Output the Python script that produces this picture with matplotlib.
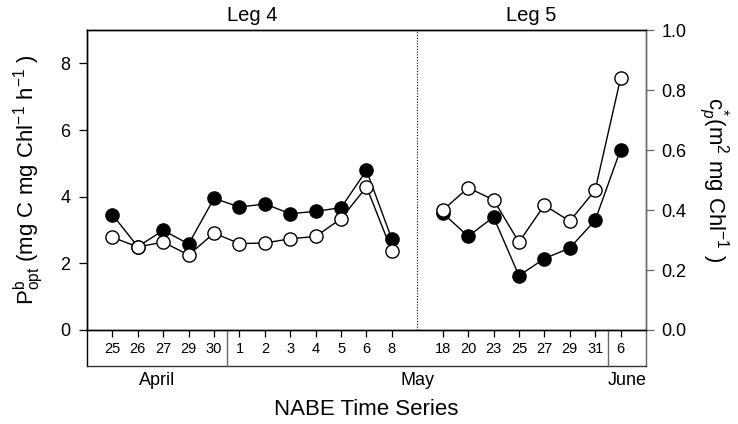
#!/usr/bin/env python
"""NABE time series: P^b_opt (filled) and c_p* (open) for Legs 4 and 5."""

import matplotlib

matplotlib.use("Agg")
import matplotlib.pyplot as plt
from matplotlib.lines import Line2D

plt.rcParams["font.family"] = ["Liberation Sans", "DejaVu Sans"]
plt.rcParams["mathtext.fontset"] = "custom"
plt.rcParams["mathtext.rm"] = "Liberation Sans"
plt.rcParams["mathtext.it"] = "Liberation Sans:italic"

# category days along the x axis (one slot each, gap slot between legs)
leg4_days = ["25", "26", "27", "29", "30", "1", "2", "3", "4", "5", "6", "8"]
leg5_days = ["18", "20", "23", "25", "27", "29", "31", "6"]

# P^b_opt, mg C mg Chl-1 h-1 (filled circles, left axis)
leg4_pbopt = [3.46, 2.50, 2.99, 2.58, 3.95, 3.69, 3.78, 3.49, 3.56, 3.67, 4.79, 2.72]
leg5_pbopt = [3.51, 2.81, 3.39, 1.63, 2.14, 2.46, 3.29, 5.41]

# c_p*, m2 mg Chl-1 (open circles, right axis)
leg4_cp = [0.309, 0.277, 0.293, 0.250, 0.323, 0.288, 0.290, 0.304, 0.312, 0.371, 0.477, 0.263]
leg5_cp = [0.399, 0.474, 0.434, 0.293, 0.416, 0.363, 0.466, 0.839]

months = ["April", "May", "June"]
month_edges = [-1, 4.5, 19.5, 21]

GRAY = "#666666"


def main() -> None:
    fig = plt.figure(figsize=(7.38, 4.24), dpi=100)
    ax = fig.add_axes([0.1179, 0.2217, 0.8753 - 0.1179, 0.9292 - 0.2217])
    ax2 = ax.twinx()

    x4 = list(range(len(leg4_days)))
    gap = len(leg4_days)
    x5 = [gap + 1 + i for i in range(len(leg5_days))]

    marker = dict(marker="o", markersize=9.5, color="black", linewidth=1.0,
                  markeredgecolor="black", markeredgewidth=1.0)
    for xs, ys in ((x4, leg4_pbopt), (x5, leg5_pbopt)):
        ax.plot(xs, ys, markerfacecolor="black", **marker)
    for xs, ys in ((x4, leg4_cp), (x5, leg5_cp)):
        ax2.plot(xs, ys, markerfacecolor="white", **marker)

    ax.axvline(gap, color="black", linestyle=(0, (1, 1.5)), linewidth=0.8)

    ax.set_xlim(-1, x5[-1] + 1)
    ax.set_ylim(0, 9)
    ax2.set_ylim(0, 1.0)
    ax.set_yticks([0, 2, 4, 6, 8])
    ax2.set_yticks([0.0, 0.2, 0.4, 0.6, 0.8, 1.0])
    ax2.set_yticklabels(["0.0", "0.2", "0.4", "0.6", "0.8", "1.0"])
    ax.set_xticks(x4 + x5)
    ax.set_xticklabels(leg4_days + leg5_days)

    ax.tick_params(axis="y", direction="out", length=6, width=0.9, labelsize=13, pad=6)
    ax2.tick_params(axis="y", direction="out", length=6, width=0.9, labelsize=13,
                    pad=5, color=GRAY)
    ax.tick_params(axis="x", direction="out", length=5, width=0.9, labelsize=10.5, pad=4)

    for a in (ax, ax2):
        a.spines["top"].set_linewidth(1.0)
        a.spines["left"].set_linewidth(1.0)
        a.spines["bottom"].set_linewidth(1.0)
        a.spines["right"].set_color(GRAY)
        a.spines["right"].set_linewidth(1.0)

    # month box below the axis
    box = -0.12
    trans = ax.get_xaxis_transform()
    ax.add_line(Line2D([-1, -1], [box, 0], transform=trans, color="black",
                       linewidth=1.0, clip_on=False))
    ax.add_line(Line2D([month_edges[-1]] * 2, [box, 0], transform=trans, color=GRAY,
                       linewidth=1.0, clip_on=False))
    ax.add_line(Line2D([month_edges[0], month_edges[-1]], [box, box], transform=trans,
                       color="#333333", linewidth=1.0, clip_on=False))
    for edge in month_edges[1:-1]:
        ax.add_line(Line2D([edge, edge], [box, 0], transform=trans, color=GRAY,
                           linewidth=1.0, clip_on=False))
    for name, lo, hi in zip(months, month_edges[:-1], month_edges[1:]):
        ax.text((lo + hi) / 2, -0.167, name, transform=trans, ha="center", va="center",
                fontsize=13)

    ax.text(0.5, -0.265, "NABE Time Series", transform=ax.transAxes, ha="center",
            va="center", fontsize=16)
    ax.text((-1 + gap) / 2, 1.05, "Leg 4", transform=trans, ha="center", va="center",
            fontsize=14.5)
    ax.text((gap + x5[-1] + 1) / 2, 1.05, "Leg 5", transform=trans, ha="center",
            va="center", fontsize=14.5)

    ax.set_ylabel(r"$\mathregular{P^{b}_{opt}}$ (mg C mg Chl$^{-1}$ h$^{-1}$ )",
                  fontsize=16, labelpad=11)
    ax2.set_ylabel(r"$\mathregular{c^{*}_{\mathit{p}}}$(m$^{2}$ mg Chl$^{-1}$ )",
                   fontsize=16, rotation=270, labelpad=32)

    fig.savefig("out.png", dpi=100)
    plt.close(fig)


if __name__ == "__main__":
    main()
